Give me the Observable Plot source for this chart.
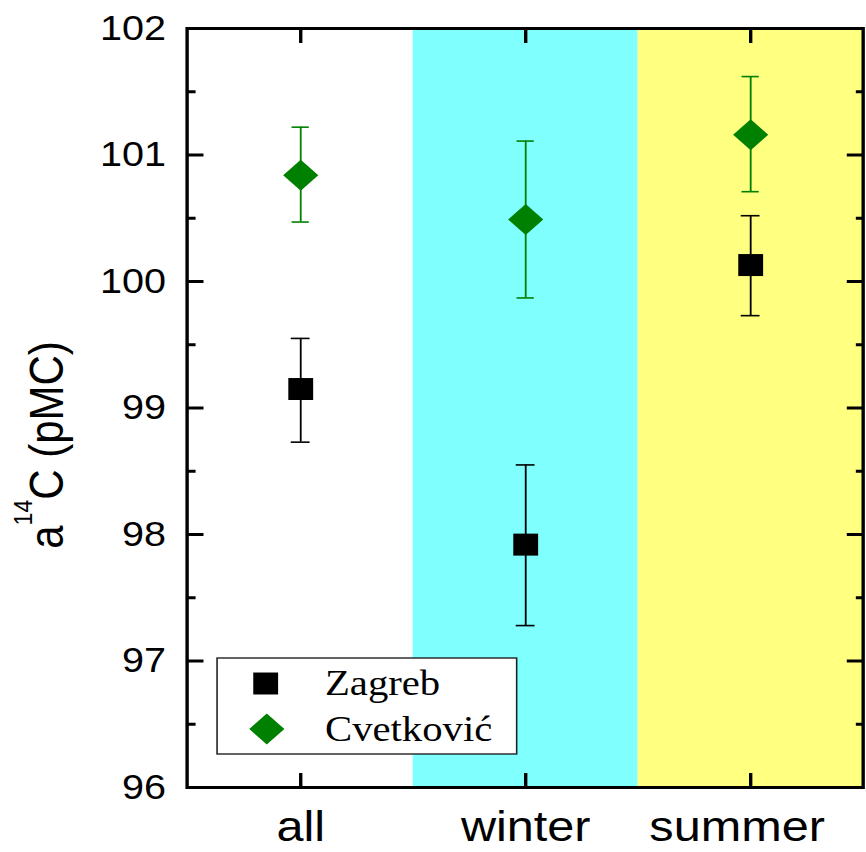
<!DOCTYPE html>
<html><head><meta charset="utf-8">
<script src="https://cdn.jsdelivr.net/npm/d3@7"></script>
<script src="https://cdn.jsdelivr.net/npm/@observablehq/plot@0.6"></script>
<style>
body{margin:0;background:#fff;}
#chart svg{display:block}
</style>
</head><body><div id="chart"></div>
<script>
// ---- data ----
const categories = ["all", "winter", "summer"];
const bandColors = ["#ffffff", "#80ffff", "#ffff80"];
const seriesNames = ["Zagreb", "Cvetković"];
const zagrebValue = [99.15, 97.92, 100.13];
const zagrebLow   = [98.73, 97.28, 99.73];
const zagrebHigh  = [99.55, 98.55, 100.52];
const cvetValue = [100.84, 100.49, 101.16];
const cvetLow   = [100.47, 99.87, 100.71];
const cvetHigh  = [101.22, 101.11, 101.62];
const yDomain = [96, 102];
const yTicks = [96, 97, 98, 99, 100, 101, 102];
const yMinorTicks = [96.5, 97.5, 98.5, 99.5, 100.5, 101.5];

// ---- tables ----
const bands = categories.map((c, i) => ({cat: c, color: bandColors[i]}));
const zagreb = categories.map((c, i) => ({cat: c, v: zagrebValue[i], lo: zagrebLow[i], hi: zagrebHigh[i]}));
const cvet = categories.map((c, i) => ({cat: c, v: cvetValue[i], lo: cvetLow[i], hi: cvetHigh[i]}));

const W = 766, H = 852, SX = 866 / 766;
const mL = 165, mR = 3, mT = 28, mB = 65;
const innerW = W - mL - mR, innerH = H - mT - mB;
const bw = innerW / categories.length;
const green = "#008000";

const plot = Plot.plot({
  width: W, height: H,
  marginLeft: mL, marginRight: mR, marginTop: mT, marginBottom: mB,
  style: {fontFamily: "'Liberation Sans', Arial, sans-serif", background: "white", color: "black"},
  x: {type: "band", domain: categories, padding: 0, label: null},
  y: {domain: yDomain, label: null},
  marks: [
    Plot.barY(bands, {x: "cat", y1: () => yDomain[0], y2: () => yDomain[1], fill: "color"}),
    // inward ticks
    Plot.tickY(yTicks, {y: d => d, insetRight: innerW - 15, stroke: "black", strokeWidth: 3}),
    Plot.tickY(yMinorTicks, {y: d => d, insetRight: innerW - 8, stroke: "black", strokeWidth: 3}),
    Plot.tickY(yTicks, {y: d => d, insetLeft: innerW - 14, stroke: "black", strokeWidth: 3}),
    Plot.tickY(yMinorTicks, {y: d => d, insetLeft: innerW - 6, stroke: "black", strokeWidth: 3}),
    Plot.tickX(categories, {x: d => d, insetTop: innerH - 14, stroke: "black", strokeWidth: 3}),
    Plot.tickX(categories, {x: d => d, insetBottom: innerH - 15, stroke: "black", strokeWidth: 3}),
    // error bars
    Plot.ruleX(zagreb, {x: "cat", y1: "lo", y2: "hi", stroke: "black", strokeWidth: 1.6}),
    Plot.tickY(zagreb, {x: "cat", y: "hi", inset: (bw - 17) / 2, stroke: "black", strokeWidth: 1.6}),
    Plot.tickY(zagreb, {x: "cat", y: "lo", inset: (bw - 17) / 2, stroke: "black", strokeWidth: 1.6}),
    Plot.ruleX(cvet, {x: "cat", y1: "lo", y2: "hi", stroke: green, strokeWidth: 1.6}),
    Plot.tickY(cvet, {x: "cat", y: "hi", inset: (bw - 15.6) / 2, stroke: green, strokeWidth: 1.6}),
    Plot.tickY(cvet, {x: "cat", y: "lo", inset: (bw - 15.6) / 2, stroke: green, strokeWidth: 1.6}),
    // points
    Plot.dot(zagreb, {x: "cat", y: "v", symbol: "square", r: 12.4, fill: "black", stroke: "none"}),
    Plot.dot(cvet, {x: "cat", y: "v", symbol: "diamond2", r: 14, fill: green, stroke: "none"}),
    // axes
    Plot.axisY(yTicks, {tickSize: 0, tickPadding: 18.6, fontSize: 35, tickFormat: d => String(d), label: null}),
    Plot.axisX(categories, {tickSize: 0, tickPadding: 23, fontSize: 43, label: null}),
    Plot.frame({stroke: "black", strokeWidth: 3})
  ]
});

const svg = d3.select(plot);
// the last category label sits a little left of its tick in the reference
svg.selectAll("text").filter(function () { return this.textContent === categories[2]; }).attr("dx", -12);

// y label with superscript
const yl = svg.append("text")
  .attr("transform", "translate(55.7,445) rotate(-90)")
  .attr("text-anchor", "middle")
  .attr("font-family", "'Liberation Sans', Arial, sans-serif")
  .attr("font-size", 42)
  .attr("fill", "black");
yl.append("tspan").text("a");
yl.append("tspan").attr("font-size", 23).attr("dy", -27).text("14");
yl.append("tspan").attr("dy", 27).text("C (pMC)");

// legend
const lg = svg.append("g");
lg.append("rect").attr("x", 192).attr("y", 658).attr("width", 265).attr("height", 96)
  .attr("fill", "white").attr("stroke", "#222").attr("stroke-width", 1.4);
const lgSymbols = [d3.symbolSquare, d3.symbolDiamond2];
const lgFills = ["black", green];
const lgSizes = [12.4 * 12.4 * Math.PI, 14 * 14 * Math.PI];
const lgY = [683.5, 729];
seriesNames.forEach((name, i) => {
  lg.append("path")
    .attr("d", d3.symbol(lgSymbols[i], lgSizes[i])())
    .attr("transform", `translate(${i === 0 ? 235 : 236},${lgY[i]})`)
    .attr("fill", lgFills[i]);
  lg.append("text")
    .attr("x", 287.5).attr("y", lgY[i] + 12)
    .attr("text-anchor", "start")
    .attr("font-family", "'Liberation Serif', 'Times New Roman', serif")
    .attr("font-size", 36)
    .attr("fill", "black")
    .text(name);
});

// horizontal stretch of the whole drawing to match the reference aspect
plot.setAttribute("viewBox", `0 0 ${W} ${H}`);
plot.setAttribute("width", 866);
plot.setAttribute("height", 852);
plot.setAttribute("preserveAspectRatio", "none");
plot.style.maxWidth = "none";
plot.style.width = "866px";
plot.style.height = "852px";

document.getElementById("chart").appendChild(plot);
</script>
</body></html>
